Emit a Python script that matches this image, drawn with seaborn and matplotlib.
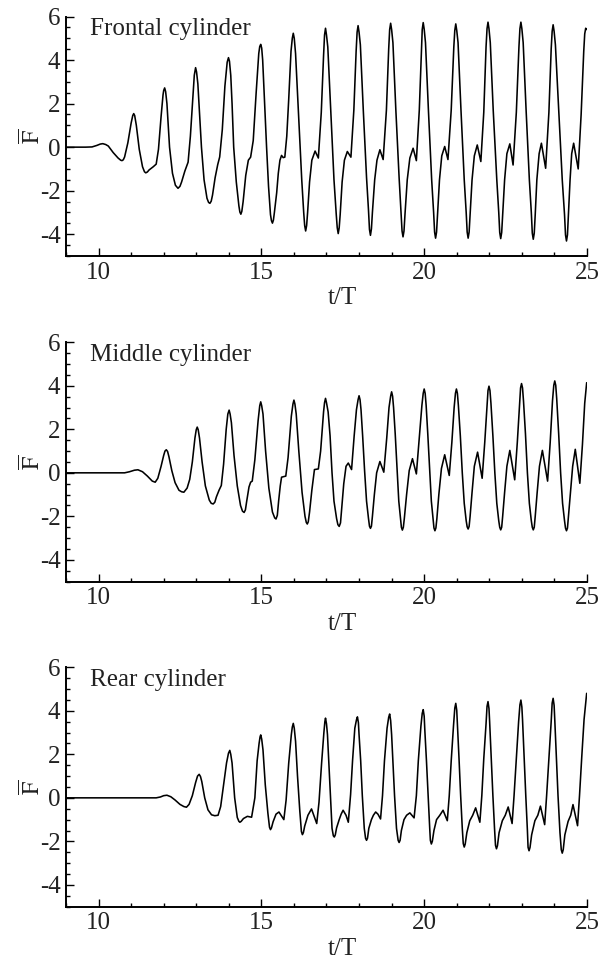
import seaborn as sns
import matplotlib
matplotlib.use("Agg")
import matplotlib.pyplot as plt
from matplotlib.ticker import MultipleLocator
import pandas as pd

# (t/T, F)
frontal = [
    (9.0, 0.0), (9.6, 0.0), (9.8, 0.01), (9.95, 0.08), (10.05, 0.14), (10.13, 0.16), (10.22, 0.12),
    (10.3, 0.05), (10.45, -0.25), (10.6, -0.5), (10.68, -0.6), (10.72, -0.62), (10.76, -0.58),
    (10.8, -0.45), (10.9, 0.2), (11.0, 1.1), (11.05, 1.45), (11.08, 1.54), (11.11, 1.45),
    (11.16, 1.0), (11.25, -0.1), (11.35, -0.9), (11.41, -1.13), (11.45, -1.18), (11.5, -1.14),
    (11.55, -1.05), (11.68, -0.9), (11.77, -0.78), (11.84, -0.1), (11.92, 1.4), (11.98, 2.4),
    (12.0, 2.6), (12.03, 2.72), (12.06, 2.55), (12.1, 2.0), (12.18, 0.0), (12.27, -1.2),
    (12.36, -1.75), (12.44, -1.89), (12.5, -1.8), (12.55, -1.6), (12.65, -1.1), (12.75, -0.69),
    (12.82, 0.5), (12.9, 2.4), (12.94, 3.3), (12.98, 3.65), (13.01, 3.45), (13.05, 2.9),
    (13.1, 1.6), (13.16, 0.0), (13.24, -1.5), (13.33, -2.35), (13.38, -2.54), (13.42, -2.58),
    (13.46, -2.48), (13.5, -2.2), (13.58, -1.4), (13.66, -0.8), (13.72, -0.45), (13.8, 0.8),
    (13.88, 2.8), (13.95, 3.9), (13.99, 4.11), (14.02, 3.95), (14.06, 3.3), (14.1, 2.0),
    (14.15, 0.0), (14.23, -1.6), (14.31, -2.7), (14.34, -2.98), (14.37, -3.08), (14.4, -2.95),
    (14.44, -2.5), (14.52, -1.3), (14.6, -0.6), (14.67, -0.46), (14.75, 0.3), (14.84, 2.5),
    (14.92, 4.3), (14.95, 4.62), (14.98, 4.72), (15.01, 4.55), (15.04, 4.0), (15.1, 2.0),
    (15.16, 0.0), (15.22, -1.8), (15.28, -3.1), (15.31, -3.38), (15.34, -3.49), (15.37, -3.35),
    (15.4, -3.0), (15.47, -2.1), (15.52, -1.2), (15.57, -0.6), (15.62, -0.38), (15.67, -0.48),
    (15.72, -0.46), (15.78, 0.5), (15.84, 2.2), (15.91, 4.4), (15.95, 5.0),
    (15.98, 5.23), (16.01, 5.0), (16.05, 4.3), (16.14, 1.6), (16.24, -1.5), (16.30, -3.0),
    (16.33, -3.6), (16.36, -3.85), (16.39, -3.6), (16.42, -3.0), (16.48, -1.6), (16.55, -0.6),
    (16.65, -0.18), (16.75, -0.50), (16.84, 1.6), (16.91, 4.2), (16.94, 5.15),
    (16.97, 5.46), (17.0, 5.15), (17.04, 4.6), (17.13, 1.7), (17.23, -1.5), (17.30, -3.1),
    (17.33, -3.7), (17.36, -3.97), (17.39, -3.7), (17.42, -3.1), (17.48, -1.6), (17.55, -0.6),
    (17.64, -0.20), (17.75, -0.46), (17.84, 1.7), (17.91, 4.4), (17.94, 5.28),
    (17.97, 5.58), (18.0, 5.28), (18.04, 4.7), (18.13, 1.7), (18.23, -1.4), (18.29, -2.9),
    (18.32, -3.78), (18.35, -4.05), (18.38, -3.75), (18.41, -3.0), (18.48, -1.5), (18.55, -0.6),
    (18.64, -0.12), (18.74, -0.57), (18.84, 1.7), (18.91, 4.5), (18.94, 5.4),
    (18.97, 5.69), (19.0, 5.4), (19.04, 4.8), (19.13, 1.7), (19.23, -1.4), (19.29, -3.0),
    (19.32, -3.85), (19.35, -4.12), (19.38, -3.85), (19.41, -3.1), (19.48, -1.5), (19.56, -0.5),
    (19.66, -0.05), (19.76, -0.62), (19.85, 1.7), (19.92, 4.6), (19.94, 5.4),
    (19.97, 5.72), (20.0, 5.42), (20.04, 4.8), (20.13, 1.7), (20.23, -1.5), (20.29, -3.0),
    (20.32, -3.9), (20.35, -4.18), (20.38, -3.9), (20.41, -3.1), (20.47, -1.5), (20.54, -0.4),
    (20.63, 0.03), (20.73, -0.57), (20.83, 1.7), (20.91, 4.6), (20.94, 5.36),
    (20.97, 5.66), (21.0, 5.36), (21.04, 4.8), (21.13, 1.7), (21.23, -1.5), (21.29, -3.0),
    (21.32, -3.9), (21.35, -4.18), (21.38, -3.9), (21.41, -3.1), (21.47, -1.5), (21.54, -0.4),
    (21.63, 0.10), (21.74, -0.66), (21.83, 1.6), (21.90, 4.6), (21.93, 5.44),
    (21.96, 5.74), (21.99, 5.44), (22.03, 4.8), (22.12, 1.7), (22.23, -1.5), (22.29, -3.0),
    (22.32, -3.92), (22.35, -4.20), (22.38, -3.92), (22.41, -3.1), (22.47, -1.5), (22.54, -0.3),
    (22.63, 0.15), (22.73, -0.82), (22.83, 1.6), (22.91, 4.6), (22.94, 5.44),
    (22.97, 5.74), (23.0, 5.44), (23.04, 4.8), (23.13, 1.7), (23.23, -1.5), (23.29, -3.0),
    (23.32, -3.95), (23.35, -4.23), (23.38, -3.95), (23.41, -3.1), (23.46, -1.5), (23.53, -0.3),
    (23.60, 0.18), (23.73, -0.97), (23.83, 1.6), (23.90, 4.5), (23.93, 5.32),
    (23.96, 5.62), (23.99, 5.32), (24.03, 4.7), (24.13, 1.7), (24.24, -1.5), (24.31, -3.1),
    (24.34, -4.03), (24.37, -4.31), (24.40, -4.03), (24.43, -3.1), (24.48, -1.5), (24.53, -0.3),
    (24.59, 0.18), (24.73, -1.00), (24.82, 1.5), (24.90, 4.4), (24.93, 5.2),
    (24.96, 5.46), (24.99, 5.40),
]

middle = [
    (9.0, 0.0), (10.8, 0.0), (10.95, 0.05), (11.1, 0.12), (11.21, 0.14), (11.35, 0.05),
    (11.5, -0.15), (11.65, -0.38), (11.74, -0.43), (11.82, -0.25), (11.92, 0.3), (12.0, 0.8),
    (12.04, 1.0), (12.08, 1.06), (12.12, 0.98), (12.16, 0.75), (12.25, 0.1), (12.35, -0.45),
    (12.47, -0.8), (12.55, -0.87), (12.62, -0.89), (12.72, -0.7), (12.8, -0.3), (12.88, 0.5),
    (12.96, 1.6), (13.0, 1.98),
    (13.03, 2.1), (13.06, 1.98), (13.1, 1.6), (13.18, 0.5), (13.28, -0.6), (13.4, -1.25),
    (13.46, -1.4), (13.52, -1.43), (13.57, -1.35), (13.62, -1.1), (13.7, -0.8), (13.77, -0.58),
    (13.84, 0.4), (13.92, 2.0), (13.97, 2.7),
    (14.01, 2.88), (14.04, 2.7), (14.08, 2.3), (14.16, 0.8), (14.26, -0.6), (14.36, -1.5),
    (14.42, -1.76), (14.47, -1.82), (14.51, -1.7), (14.55, -1.3), (14.62, -0.65), (14.67, -0.43),
    (14.72, -0.38), (14.8, 0.6), (14.9, 2.4), (14.95, 3.08),
    (14.98, 3.26), (15.01, 3.08), (15.05, 2.7), (15.13, 1.0), (15.23, -0.7), (15.34, -1.8),
    (15.41, -2.07), (15.45, -2.12), (15.49, -1.95), (15.53, -1.3), (15.58, -0.6), (15.62, -0.2),
    (15.75, -0.15), (15.82, 0.7), (15.92, 2.6), (15.97, 3.16),
    (16.0, 3.34), (16.03, 3.16), (16.07, 2.7), (16.15, 1.0), (16.25, -0.9), (16.34, -2.0),
    (16.38, -2.28), (16.41, -2.35), (16.44, -2.25), (16.48, -1.8), (16.55, -0.8), (16.63, 0.15),
    (16.75, 0.18), (16.82, 1.0), (16.91, 2.8), (16.94, 3.22),
    (16.97, 3.42), (17.0, 3.22), (17.05, 2.8), (17.11, 1.7), (17.17, 0.0), (17.23, -1.3),
    (17.31, -2.1), (17.35, -2.38), (17.39, -2.46), (17.43, -2.3), (17.47, -1.6), (17.53, -0.5),
    (17.6, 0.3), (17.67, 0.45), (17.77, 0.15), (17.85, 1.7), (17.92, 2.9), (17.97, 3.36),
    (18.0, 3.54), (18.03, 3.36), (18.06, 2.9), (18.11, 1.7), (18.17, 0.1), (18.23, -1.3),
    (18.29, -2.1), (18.32, -2.45), (18.35, -2.55), (18.38, -2.45), (18.41, -2.0), (18.47, -1.0),
    (18.54, 0.0), (18.64, 0.52), (18.76, 0.03), (18.85, 1.6), (18.92, 3.0), (18.97, 3.52),
    (19.0, 3.72), (19.03, 3.52), (19.06, 3.0), (19.11, 1.8), (19.17, 0.1), (19.22, -1.3),
    (19.28, -2.2), (19.3, -2.5), (19.33, -2.63), (19.36, -2.5), (19.39, -2.1), (19.46, -1.0),
    (19.54, 0.1), (19.64, 0.65), (19.76, -0.05), (19.85, 1.6), (19.93, 3.1), (19.97, 3.65),
    (20.0, 3.85), (20.03, 3.65), (20.06, 3.1), (20.11, 1.8), (20.17, 0.1), (20.22, -1.3),
    (20.28, -2.2), (20.3, -2.53), (20.33, -2.66), (20.36, -2.53), (20.39, -2.1), (20.45, -1.0),
    (20.53, 0.2), (20.63, 0.83), (20.77, -0.12), (20.85, 1.4), (20.92, 3.0), (20.96, 3.65),
    (20.99, 3.85), (21.02, 3.65), (21.05, 3.1), (21.11, 1.7), (21.17, 0.0), (21.23, -1.4),
    (21.29, -2.2), (21.32, -2.48), (21.35, -2.58), (21.38, -2.46), (21.41, -2.0), (21.47, -0.9),
    (21.54, 0.3), (21.64, 0.95), (21.78, -0.25), (21.86, 1.4), (21.93, 3.1), (21.96, 3.78),
    (21.99, 3.98), (22.02, 3.78), (22.05, 3.2), (22.11, 1.7), (22.17, 0.0), (22.23, -1.4),
    (22.29, -2.2), (22.32, -2.5), (22.35, -2.62), (22.38, -2.5), (22.41, -2.0), (22.47, -0.9),
    (22.54, 0.3), (22.63, 1.03), (22.78, -0.32), (22.86, 1.4), (22.93, 3.2), (22.96, 3.9),
    (22.99, 4.10), (23.02, 3.9), (23.05, 3.3), (23.11, 1.8), (23.17, 0.0), (23.23, -1.4),
    (23.29, -2.2), (23.32, -2.5), (23.35, -2.62), (23.38, -2.5), (23.41, -2.0), (23.47, -0.9),
    (23.54, 0.3), (23.63, 1.03), (23.79, -0.38), (23.87, 1.4), (23.94, 3.3), (23.98, 4.02),
    (24.01, 4.22), (24.04, 4.02), (24.07, 3.4), (24.13, 1.8), (24.19, 0.0), (24.25, -1.4),
    (24.31, -2.2), (24.34, -2.54), (24.37, -2.66), (24.40, -2.54), (24.43, -2.0), (24.49, -0.9),
    (24.56, 0.3), (24.64, 1.08), (24.78, -0.48), (24.86, 1.3), (24.93, 3.2), (24.99, 4.14),
]

rear = [
    (9.0, 0.0), (11.77, 0.0), (11.9, 0.04), (12.0, 0.1), (12.1, 0.12), (12.22, 0.05),
    (12.35, -0.1), (12.5, -0.3), (12.62, -0.4), (12.7, -0.43), (12.78, -0.3), (12.88, 0.1),
    (12.98, 0.7), (13.04, 1.0),
    (13.09, 1.08), (13.13, 0.98), (13.17, 0.75), (13.26, 0.0), (13.36, -0.55), (13.47, -0.78),
    (13.57, -0.82), (13.67, -0.8), (13.75, -0.4), (13.84, 0.6), (13.93, 1.6), (13.99, 2.05),
    (14.03, 2.18), (14.06, 2.0), (14.1, 1.6), (14.18, 0.0), (14.26, -0.9), (14.31, -1.08),
    (14.34, -1.12), (14.38, -1.08), (14.45, -0.95), (14.57, -0.85), (14.7, -0.89), (14.8, 0.0),
    (14.87, 1.7), (14.93, 2.5), (14.96, 2.8),
    (14.98, 2.89), (15.01, 2.7), (15.05, 2.2), (15.12, 0.6), (15.2, -0.7), (15.25, -1.35),
    (15.28, -1.46), (15.31, -1.38), (15.36, -1.1), (15.45, -0.75), (15.54, -0.65), (15.69, -1.0),
    (15.76, -0.1), (15.84, 1.6), (15.92, 2.9), (15.95, 3.25),
    (15.98, 3.42), (16.01, 3.2), (16.05, 2.6), (16.11, 1.0), (16.18, -0.6), (16.23, -1.55),
    (16.26, -1.69), (16.29, -1.6), (16.33, -1.3), (16.43, -0.8), (16.54, -0.51), (16.7, -1.18),
    (16.77, -0.2), (16.85, 1.6), (16.92, 3.0), (16.95, 3.5),
    (16.97, 3.66), (17.0, 3.4), (17.03, 2.9), (17.07, 1.7), (17.12, 0.15), (17.17, -1.4),
    (17.21, -1.74), (17.24, -1.8), (17.27, -1.7), (17.31, -1.38), (17.39, -1.0), (17.45, -0.75),
    (17.51, -0.57), (17.6, -0.8), (17.67, -1.12), (17.74, 0.15), (17.8, 1.7), (17.87, 3.2),
    (17.92, 3.58),
    (17.95, 3.72), (17.98, 3.45), (18.0, 2.9), (18.05, 1.7), (18.1, 0.1), (18.16, -1.4),
    (18.2, -1.86), (18.23, -1.95), (18.26, -1.85), (18.3, -1.4), (18.38, -1.0), (18.44, -0.8),
    (18.51, -0.65), (18.58, -0.75), (18.66, -0.97), (18.72, 0.1), (18.78, 1.7), (18.86, 3.2),
    (18.91, 3.7),
    (18.94, 3.85), (18.97, 3.55), (19.0, 2.9), (19.04, 1.7), (19.09, 0.1), (19.15, -1.4),
    (19.2, -1.95), (19.23, -2.05), (19.26, -1.95), (19.3, -1.5), (19.38, -1.0), (19.46, -0.8),
    (19.56, -0.69), (19.69, -0.92), (19.76, 0.1), (19.82, 1.7), (19.9, 3.3), (19.94, 3.88),
    (19.97, 4.05), (20.0, 3.75), (20.02, 3.1), (20.07, 1.7), (20.12, 0.1), (20.17, -1.4),
    (20.19, -1.95), (20.22, -2.12), (20.25, -2.0), (20.3, -1.5), (20.38, -1.0), (20.48, -0.8),
    (20.58, -0.57), (20.71, -1.05), (20.77, 0.1), (20.83, 1.7), (20.9, 3.3), (20.94, 4.12),
    (20.97, 4.34), (21.0, 4.02), (21.02, 3.4), (21.07, 1.8), (21.12, 0.1), (21.17, -1.4),
    (21.2, -2.1), (21.23, -2.26), (21.26, -2.12), (21.31, -1.6), (21.4, -1.05), (21.49, -0.8),
    (21.58, -0.46), (21.71, -1.12), (21.77, 0.1), (21.83, 1.8), (21.9, 3.4), (21.93, 4.2),
    (21.96, 4.42), (21.99, 4.1), (22.01, 3.5), (22.06, 1.8), (22.11, 0.1), (22.16, -1.4),
    (22.19, -2.18), (22.22, -2.34), (22.25, -2.2), (22.3, -1.6), (22.4, -1.05), (22.49, -0.8),
    (22.58, -0.42), (22.7, -1.18), (22.76, 0.1), (22.83, 1.8), (22.9, 3.5), (22.94, 4.27),
    (22.97, 4.49), (23.0, 4.17), (23.02, 3.6), (23.07, 1.8), (23.12, 0.1), (23.17, -1.5),
    (23.19, -2.27), (23.22, -2.43), (23.25, -2.28), (23.3, -1.7), (23.4, -1.05), (23.49, -0.8),
    (23.57, -0.38), (23.7, -1.23), (23.76, 0.1), (23.83, 1.8), (23.9, 3.5), (23.93, 4.35),
    (23.96, 4.57), (23.99, 4.25), (24.01, 3.6), (24.06, 1.8), (24.11, 0.1), (24.17, -1.6),
    (24.21, -2.38), (24.24, -2.54), (24.27, -2.38), (24.32, -1.7), (24.42, -1.08), (24.5, -0.8),
    (24.57, -0.31), (24.71, -1.28), (24.77, 0.1), (24.84, 1.9), (24.91, 3.6), (24.99, 4.8),
]

panel_names = ["Frontal cylinder", "Middle cylinder", "Rear cylinder"]
x_ticks = [10, 15, 20, 25]
y_ticks = [-4, -2, 0, 2, 4, 6]

sns.set_theme(style="ticks")
plt.rcParams["font.family"] = ["Liberation Serif", "DejaVu Serif"]
plt.rcParams["mathtext.fontset"] = "stix"
plt.rcParams["axes.unicode_minus"] = False

fig = plt.figure(figsize=(6.01, 9.65), dpi=100)

# axes boxes in figure fraction (left, bottom, width, height)
boxes = [
    (0.1098, 0.7347, 0.8669, 0.2482),
    (0.1098, 0.3972, 0.8669, 0.2482),
    (0.1098, 0.0604, 0.8669, 0.2482),
]

for pts, name, box in zip([frontal, middle, rear], panel_names, boxes):
    ax = fig.add_axes(box)
    df = pd.DataFrame(pts, columns=["t", "F"])
    sns.lineplot(data=df, x="t", y="F", ax=ax, color="black", linewidth=1.15,
                 estimator=None, sort=False, solid_joinstyle="round")

    ax.set_xlim(9, 25)
    ax.set_ylim(-5, 6)
    ax.set_xticks(x_ticks)
    ax.set_yticks(y_ticks)
    ax.xaxis.set_minor_locator(MultipleLocator(1))
    ax.yaxis.set_minor_locator(MultipleLocator(0.5))
    ax.tick_params(which="major", direction="in", length=5.5, width=1.0,
                   labelsize=18, pad=4, color="black", labelcolor="#222222")
    ax.tick_params(which="minor", direction="in", length=3, width=1.0, color="black")
    sns.despine(ax=ax)
    for side in ["left", "bottom"]:
        ax.spines[side].set_linewidth(1.4)
        ax.spines[side].set_color("black")

    ax.set_xlabel("t/T", fontsize=18, color="#222222", labelpad=0)
    ax.xaxis.set_label_coords(0.53, -0.13)
    ax.set_ylabel(r"$\overline{\mathrm{F}}$", fontsize=17, color="#222222")
    ax.yaxis.set_label_coords(-0.04, 0.5)
    ax.text(0.046, 0.923, name, transform=ax.transAxes, fontsize=18,
            color="#222222", va="baseline", ha="left")

fig.savefig("out.png", dpi=100)
